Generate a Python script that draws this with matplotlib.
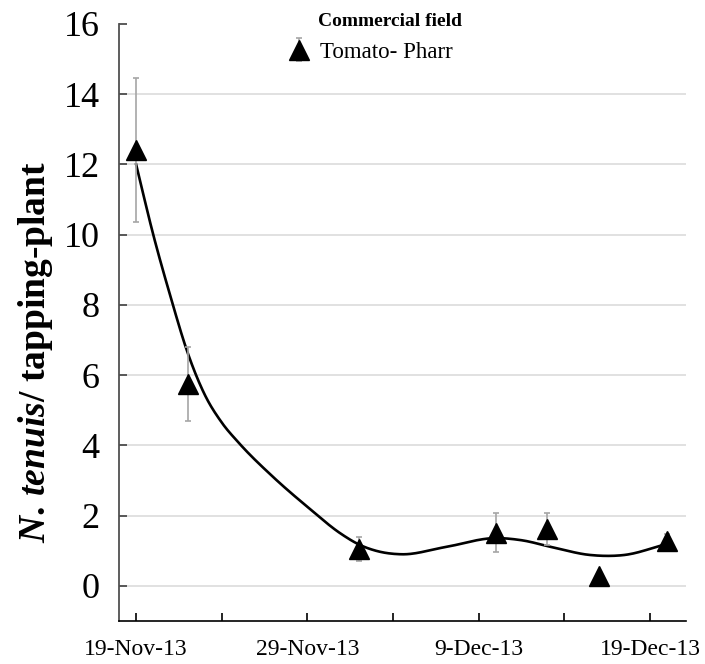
import matplotlib
matplotlib.use('Agg')
import matplotlib.pyplot as plt
import matplotlib.dates as mdates
import numpy as np

plt.rcParams['font.family'] = ['Liberation Serif', 'DejaVu Serif']
plt.rcParams['mathtext.fontset'] = 'custom'
plt.rcParams['mathtext.rm'] = 'Liberation Serif:bold'
plt.rcParams['mathtext.it'] = 'Liberation Serif:italic:bold'

# sampling dates and N. tenuis counts (mean +/- SE)
dates = np.array(['2013-11-19', '2013-11-22', '2013-12-02', '2013-12-10',
                  '2013-12-13', '2013-12-16', '2013-12-20'], dtype='datetime64[D]')
means = [12.4, 5.75, 1.05, 1.52, 1.62, 0.28, 1.28]
errors = [2.05, 1.05, 0.33, 0.55, 0.45, 0.0, 0.2]

# smoothed curve (days after 19-Nov-13, value)
curve_days = [0, 1, 2, 3, 4, 5, 6, 8, 10, 12, 13, 14, 15.5, 18, 21, 22.5, 24.3, 26.5, 28.5, 31]
curve_vals = [12.0, 10.0, 8.25, 6.65, 5.45, 4.65, 4.07, 3.1, 2.25, 1.47, 1.18, 1.0, 0.9, 1.1,
              1.36, 1.3, 1.1, 0.88, 0.88, 1.2]

tick_dates = np.array(['2013-11-19', '2013-11-24', '2013-11-29', '2013-12-04',
                       '2013-12-09', '2013-12-14', '2013-12-19'], dtype='datetime64[D]')
tick_labels = ['19-Nov-13', '', '29-Nov-13', '', '9-Dec-13', '', '19-Dec-13']

start = np.datetime64('2013-11-19')


def smooth_line(xs, ys, n=25):
    # cubic hermite through the knots (spreadsheet-style smoothed line)
    xs = np.asarray(xs, float)
    ys = np.asarray(ys, float)
    m = np.gradient(ys, xs)
    outx, outy = [], []
    t = np.linspace(0, 1, n)
    for i in range(len(xs) - 1):
        h = xs[i + 1] - xs[i]
        h00 = 2 * t ** 3 - 3 * t ** 2 + 1
        h10 = t ** 3 - 2 * t ** 2 + t
        h01 = -2 * t ** 3 + 3 * t ** 2
        h11 = t ** 3 - t ** 2
        outx.extend(xs[i] + h * t)
        outy.extend(h00 * ys[i] + h10 * h * m[i] + h01 * ys[i + 1] + h11 * h * m[i + 1])
    return np.array(outx), np.array(outy)


cx, cy = smooth_line(curve_days, curve_vals)
cdates = mdates.date2num(start) + cx

fig = plt.figure(figsize=(7.05, 6.64), dpi=100)
ax = fig.add_axes([119 / 705, 1 - 621 / 664, 567 / 705, 597 / 664])

ax.plot(cdates, cy, color='black', lw=1.9, zorder=3)
eb = ax.errorbar(dates, means, yerr=errors, fmt='^', color='black', ms=14,
                 ecolor='#a6a6a6', elinewidth=1.2, capsize=2.5, capthick=1.2,
                 zorder=4, label='Tomato- Pharr')

ax.set_ylim(-1, 16)
ax.set_xlim(mdates.date2num(start) - 1, mdates.date2num(start) + 32.1)
ax.set_yticks(range(0, 17, 2))
ax.set_xticks(tick_dates)
ax.set_xticklabels(tick_labels)
ax.tick_params(axis='y', direction='in', length=6, width=1.2, pad=14,
               labelsize=26, color='#404040')
ax.tick_params(axis='x', direction='in', length=6, width=1.2, pad=13,
               labelsize=17)

ax.grid(axis='y', color='#d9d9d9', lw=1.1)
ax.get_ygridlines()[-1].set_visible(False)
ax.set_axisbelow(True)

for s in ['top', 'right']:
    ax.spines[s].set_visible(False)
ax.spines['left'].set_color('#505050')
ax.spines['left'].set_linewidth(1.3)
ax.spines['bottom'].set_linewidth(1.2)

ax.set_ylabel(r'$\mathit{N.\,tenuis}$/ tapping-plant', fontsize=27,
              fontweight='bold')
ax.yaxis.set_label_coords(-0.113, 0.45)

fig.text(318 / 705, 1 - 22 / 664, 'Commercial field', fontsize=14,
         fontweight='bold', ha='left', va='center')
leg = ax.legend(loc='center left', bbox_to_anchor=(288 / 705, 1 - 52 / 664),
                bbox_transform=fig.transFigure, frameon=False, fontsize=16.5,
                handlelength=1.0, handletextpad=0.4, borderpad=0, borderaxespad=0)

fig.savefig('out.png', dpi=100)
